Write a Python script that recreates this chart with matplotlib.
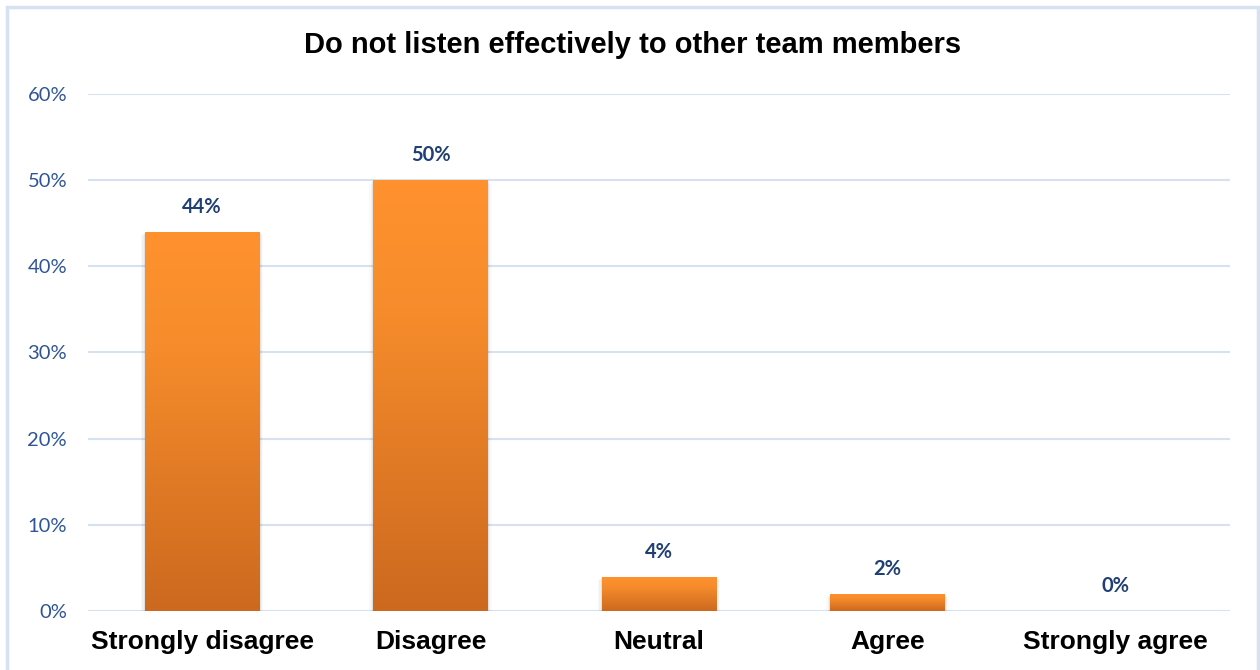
import numpy as np
import matplotlib
matplotlib.use('Agg')
import matplotlib.pyplot as plt
from matplotlib.colors import LinearSegmentedColormap
from matplotlib.patches import Rectangle

categories = ['Strongly disagree', 'Disagree', 'Neutral', 'Agree', 'Strongly agree']
percent = [44, 50, 4, 2, 0]
yticks = [0, 10, 20, 30, 40, 50, 60]

title = 'Do not listen effectively to other team members'

grid_color = '#D6E1F2'
tick_color = '#2F5597'
label_color = '#203F73'
bar_cmap = LinearSegmentedColormap.from_list(
    'bar_fade', [(0.0, '#FF922E'), (0.3, '#F68C2B'), (1.0, '#CC691F')])

fig = plt.figure(figsize=(12.6, 6.7), dpi=100)
ax = fig.add_axes([0.0698, 0.0881, 0.9064, 0.7716])

x = np.arange(len(categories))
bars = ax.bar(x, percent, width=0.5, color='none', edgecolor='none', zorder=3)

# vertical gradient inside each bar, clipped to the bar outline
grad = np.linspace(0, 1, 256).reshape(-1, 1)
for rect in bars:
    h = rect.get_height()
    if h <= 0:
        continue
    x0 = rect.get_x()
    w = rect.get_width()
    # soft drop shadow
    for k, a in enumerate([0.06, 0.04, 0.02]):
        off = 0.006 * (k + 1)
        ax.add_patch(Rectangle((x0 - off, -0.15 * (k + 1)), w + 2 * off, h + 0.05,
                               facecolor='black', alpha=a, edgecolor='none', zorder=2))
    im = ax.imshow(grad, cmap=bar_cmap, aspect='auto', extent=[x0, x0 + w, 0, h],
                   origin='upper', zorder=3, interpolation='bilinear')
    im.set_clip_path(rect)

for xi, v in zip(x, percent):
    ax.annotate(f'{v}%', (xi, v), xytext=(0, 18), textcoords='offset points',
                ha='center', va='center', fontsize=14.5, fontweight='bold',
                family='Lato', color=label_color)

ax.set_xlim(-0.5, len(categories) - 0.5)
ax.set_ylim(0, 60)
ax.set_yticks(yticks)
ax.set_yticklabels([f'{t}%' for t in yticks], family='Lato', fontsize=14.5, color=tick_color)
ax.set_xticks(x)
ax.set_xticklabels(categories, family='Liberation Sans', fontsize=19,
                   fontweight='bold', color='black')
ax.tick_params(axis='y', length=0, pad=15)
ax.tick_params(axis='x', length=0, pad=14)

ax.grid(axis='y', color=grid_color, linewidth=1.5, zorder=0)
ax.set_axisbelow(True)
for s in ax.spines.values():
    s.set_visible(False)

fig.text(0.502, 0.933, title, ha='center', va='center', fontsize=21,
         fontweight='bold', family='Liberation Sans', color='black')

# outer frame of the chart area
fig.patches.append(Rectangle((7 / 1260, -0.05), 1251 / 1260, 1.05 - 7 / 670,
                             transform=fig.transFigure, fill=False,
                             edgecolor='#D6E1F2', linewidth=2.5))

fig.savefig('out.png', dpi=100)
